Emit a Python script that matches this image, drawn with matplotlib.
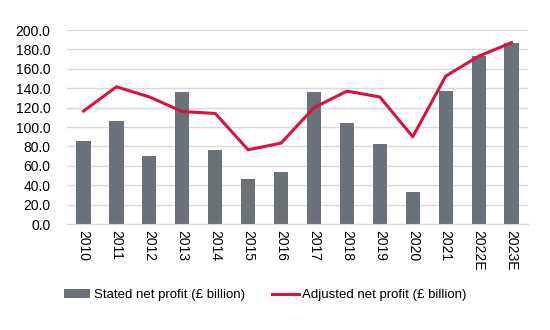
import matplotlib
matplotlib.use("Agg")
import matplotlib.pyplot as plt
import numpy as np

plt.rcParams['font.family'] = ['Liberation Sans', 'DejaVu Sans']

years = ['2010', '2011', '2012', '2013', '2014', '2015', '2016', '2017',
         '2018', '2019', '2020', '2021', '2022E', '2023E']
stated = [86, 106, 70, 136, 76, 46, 54, 136, 104, 83, 33, 137, 173, 187]
adjusted = [116.5, 141.5, 131, 116, 114, 76.5, 83.5, 120, 137, 131, 90, 152.5, 173, 187]

bar_color = '#6b7178'
line_color = '#d7143f'

fig = plt.figure(figsize=(5.5, 3.3), dpi=100)
ax = fig.add_axes([0.122, 0.321, 0.838, 0.588])

x = np.arange(len(years))
bars = ax.bar(x, stated, width=0.43, color=bar_color, zorder=2,
              label='Stated net profit (£ billion)')
line, = ax.plot(x, adjusted, color=line_color, lw=2.2, zorder=3,
                label='Adjusted net profit (£ billion)')

ax.set_ylim(0, 200)
ax.set_xlim(-0.5, len(years) - 0.5)
ax.set_yticks(np.arange(0, 201, 20))
ax.set_yticklabels([f'{v:.1f}' for v in np.arange(0, 201, 20)], fontsize=10)
ax.set_xticks(x)
ax.set_xticklabels(years, rotation=270, fontsize=10)
ax.yaxis.grid(True, color='#d9d9d9', lw=1, zorder=0)
ax.tick_params(length=0, pad=4)
ax.tick_params(axis='y', pad=12)
for s in ['top', 'right', 'left']:
    ax.spines[s].set_visible(False)
ax.spines['bottom'].set_color('#d9d9d9')

fig.legend([bars, line], [bars.get_label(), line.get_label()],
           loc='center', bbox_to_anchor=(0.482, 0.106), ncol=2, frameon=False,
           fontsize=9.5, handlelength=2.0, handletextpad=0.25, columnspacing=2.1)

fig.savefig('out.png', dpi=100)
